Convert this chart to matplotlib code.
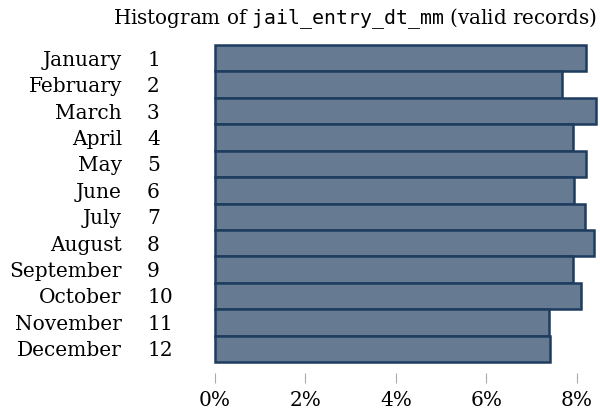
import matplotlib
matplotlib.use('Agg')
import matplotlib.pyplot as plt
from matplotlib.ticker import FuncFormatter

months = ['January', 'February', 'March', 'April', 'May', 'June', 'July',
          'August', 'September', 'October', 'November', 'December']
month_nums = list(range(1, 13))
shares = [8.21, 7.67, 8.42, 7.92, 8.19, 7.93, 8.18, 8.38, 7.92, 8.08, 7.38, 7.40]
x_ticks = [0, 2, 4, 6, 8]

plt.rcParams['font.family'] = ['DejaVu Serif']
plt.rcParams['mathtext.fontset'] = 'dejavuserif'

fig = plt.figure(figsize=(6, 4.13), dpi=100)
ax = fig.add_axes([215/600, 1 - 362/413, (596 - 215)/600, (362 - 45)/413])

# bars touch each other, first month on top
ypos = list(range(len(months)))
bars = ax.barh(ypos, shares, height=1.0, color='#667b91', edgecolor='#1e3c5f', linewidth=1.8)
for b in bars:
    b.set_clip_on(False)
ax.set_ylim(len(months) - 0.5, -0.5)
ax.set_xlim(0, max(shares))

for s in ax.spines.values():
    s.set_visible(False)
ax.spines['bottom'].set_position(('outward', 8))

ax.set_xticks(x_ticks)
ax.xaxis.set_major_formatter(FuncFormatter(lambda v, p: f'{v:.0f}%'))
ax.tick_params(axis='x', length=7, width=0.8, color='#aaaaaa', pad=6, labelsize=14.5)

ax.set_yticks(ypos)
ax.set_yticklabels(months)
ax.tick_params(axis='y', length=0, pad=67, labelsize=14.5)

# month number column
for y, n in zip(ypos, month_nums):
    ax.text(-68/381, y, str(n), transform=ax.get_yaxis_transform(),
            ha='left', va='center_baseline', fontsize=14.5)

fig.text(355/600, 1 - 19/413,
         r'Histogram of $\mathtt{jail\_entry\_dt\_mm}$ (valid records)',
         ha='center', va='center', fontsize=14.3)

fig.savefig('out.png', dpi=100)
